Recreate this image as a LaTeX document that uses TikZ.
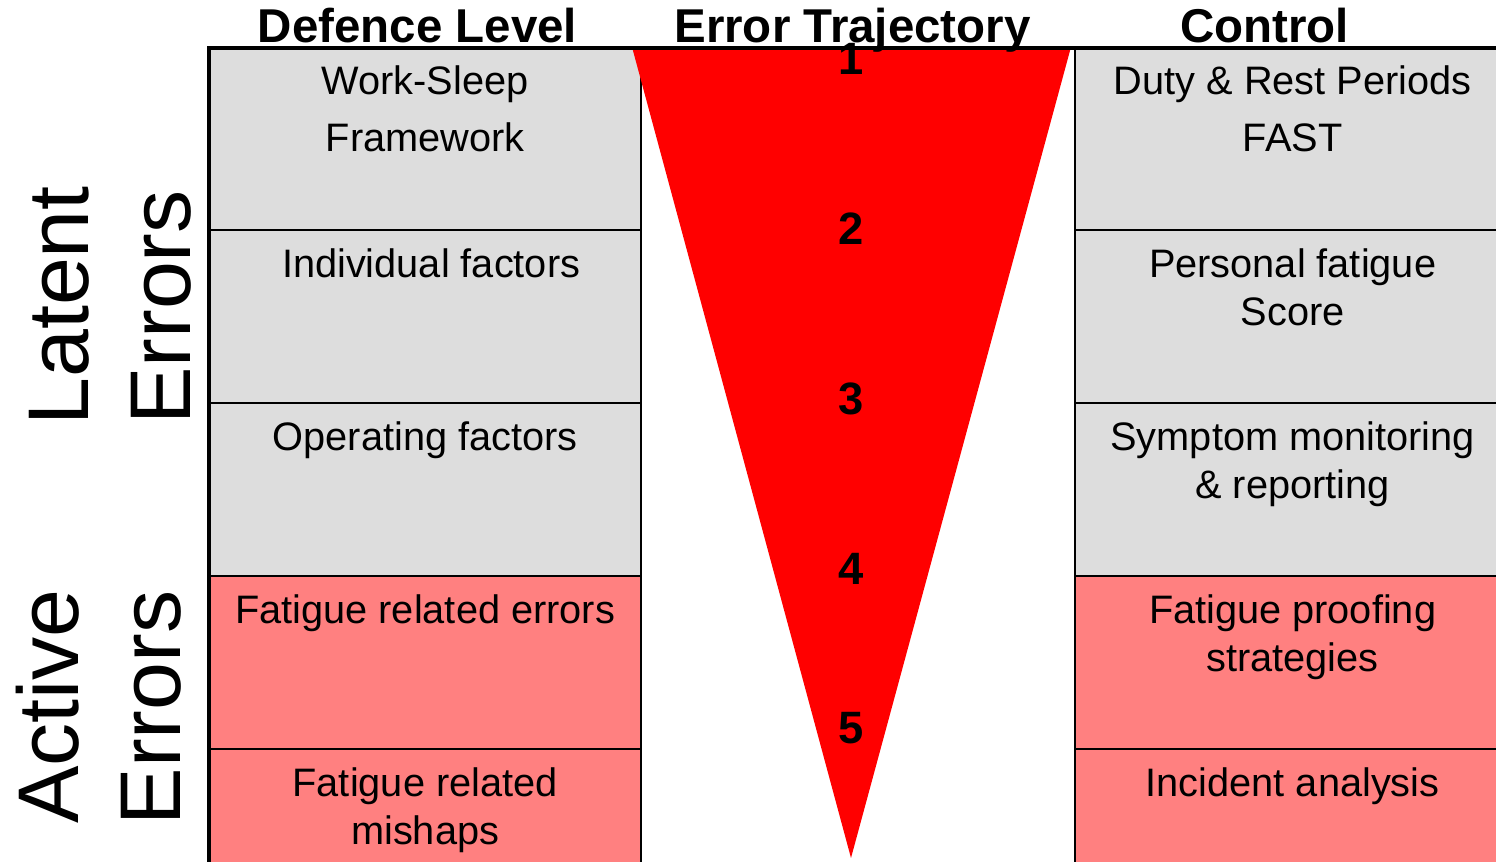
\documentclass[tikz,border=0pt]{standalone}
\usepackage{fontspec}
\setmainfont{Liberation Sans}
\definecolor{cellgrey}{RGB}{221,221,221}
\definecolor{cellpink}{RGB}{255,128,128}
\definecolor{trired}{RGB}{255,0,0}
\begin{document}
\begin{tikzpicture}[x=0.01cm,y=-0.01cm,
  cellbox/.style={draw=black, line width=0.7pt, inner sep=0pt, outer sep=0pt,
    anchor=north west, minimum height=1.73cm},
  leftcell/.style={cellbox, minimum width=4.32cm},
  rightcell/.style={cellbox, minimum width=4.35cm},
  celltext/.style={anchor=north, inner sep=0pt, align=center,
    font=\fontsize{11.3}{13.66}\selectfont},
  widetext/.style={celltext, font=\fontsize{11.3}{16.2}\selectfont},
  hdr/.style={anchor=base, inner sep=0pt, font=\fontsize{13.5}{16}\selectfont\bfseries},
  num/.style={anchor=base, inner sep=0pt, font=\fontsize{12.9}{15}\selectfont\bfseries},
  sidelbl/.style={anchor=base, inner sep=0pt, rotate=90, font=\fontsize{24.5}{29}\selectfont},
  frame/.style={line width=1.4pt, line cap=rect}
]
\useasboundingbox (0,0) rectangle (1496,862);

% defence level column
\node[leftcell, fill=cellgrey, minimum height=1.83cm] (d1) at (209,47) {};
\node[leftcell, fill=cellgrey] (d2) at (209,230) {};
\node[leftcell, fill=cellgrey] (d3) at (209,403) {};
\node[leftcell, fill=cellpink] (d4) at (209,576) {};
\node[leftcell, fill=cellpink] (d5) at (209,749) {};

% control column
\node[rightcell, fill=cellgrey, minimum height=1.83cm] (k1) at (1075,47) {};
\node[rightcell, fill=cellgrey] (k2) at (1075,230) {};
\node[rightcell, fill=cellgrey] (k3) at (1075,403) {};
\node[rightcell, fill=cellpink] (k4) at (1075,576) {};
\node[rightcell, fill=cellpink] (k5) at (1075,749) {};

% error trajectory wedge
\coordinate (wl) at (632,47);
\coordinate (wr) at (1071,47);
\coordinate (wtip) at (851,858);
\fill[trired] (wl) -- (wr) -- (wtip) -- cycle;

% outer frame: top rule and left edge
\coordinate (ftl) at (209,48);
\coordinate (ftr) at (1500,48);
\coordinate (fbl) at (209,870);
\draw[frame] (ftr) -- (ftl) -- (fbl);

% cell texts
\node[widetext] (td1) at ([yshift=-0.18cm]d1.north) {Work-Sleep\\Framework};
\node[celltext, xshift=0.06cm] (td2) at ([yshift=-0.18cm]d2.north) {Individual factors};
\node[celltext] (td3) at ([yshift=-0.18cm]d3.north) {Operating factors};
\node[celltext] (td4) at ([yshift=-0.18cm]d4.north) {Fatigue related errors};
\node[celltext] (td5) at ([yshift=-0.18cm]d5.north) {Fatigue related\\mishaps};

\node[widetext] (tk1) at ([yshift=-0.18cm]k1.north) {Duty \& Rest Periods\\FAST};
\node[celltext] (tk2) at ([yshift=-0.18cm]k2.north) {Personal fatigue\\Score};
\node[celltext] (tk3) at ([yshift=-0.18cm]k3.north) {Symptom monitoring\\\& reporting};
\node[celltext] (tk4) at ([yshift=-0.18cm]k4.north) {Fatigue proofing\\strategies};
\node[celltext] (tk5) at ([yshift=-0.18cm]k5.north) {Incident analysis};

% column headings
\node[hdr] (h1) at (417.5,43) {Defence Level};
\node[hdr] (h2) at (852.5,43) {Error Trajectory};
\node[hdr] (h3) at (1264.5,43) {Control};

% trajectory stages
\node[num] (n1) at (851,75) {1};
\node[num] (n2) at (851,245) {2};
\node[num] (n3) at (851,415) {3};
\node[num] (n4) at (851,585) {4};
\node[num] (n5) at (851,744) {5};

% side labels
\node[sidelbl] (s1) at (88,306) {Latent};
\node[sidelbl] (s2) at (190,307.5) {Errors};
\node[sidelbl] (s3) at (78,706.5) {Active};
\node[sidelbl] (s4) at (180,708) {Errors};
\end{tikzpicture}
\end{document}
